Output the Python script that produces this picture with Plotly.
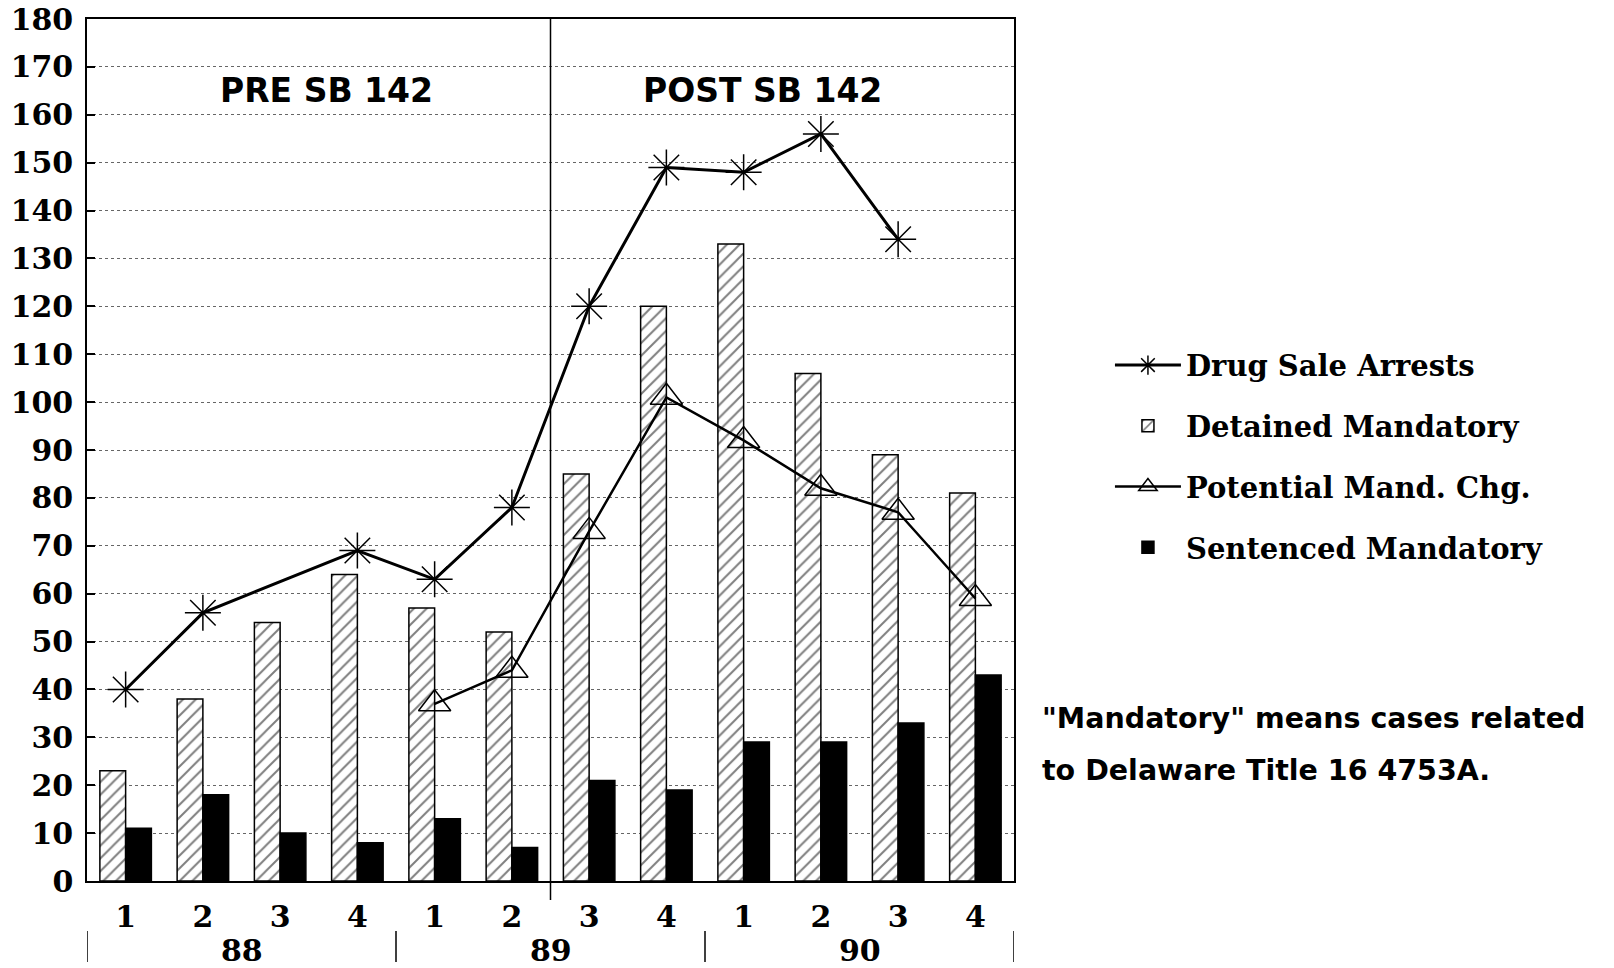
import plotly.graph_objects as go

quarters = ["1", "2", "3", "4", "1", "2", "3", "4", "1", "2", "3", "4"]
years = ["88", "89", "90"]
xpos = list(range(12))

drug_sale_arrests = [40, 56, None, 69, 63, 78, 120, 149, 148, 156, 134, None]
detained_mandatory = [23, 38, 54, 64, 57, 52, 85, 120, 133, 106, 89, 81]
potential_mand_chg = [None, None, None, None, 37, 44, 73, 101, 92, 82, 77, 59]
sentenced_mandatory = [11, 18, 10, 8, 13, 7, 21, 19, 29, 29, 33, 43]

yticks = list(range(0, 181, 10))

SERIF = "DejaVu Serif"
SANS = "DejaVu Sans"

fig = go.Figure()

fig.add_trace(go.Scatter(
    x=xpos, y=drug_sale_arrests, name="Drug Sale Arrests",
    mode="lines+markers", connectgaps=True,
    line=dict(color="black", width=3),
    marker=dict(symbol="asterisk-open", size=30, color="black",
                line=dict(color="black", width=1.5)),
    legendgroup="a",
))
fig.add_trace(go.Bar(
    x=xpos, y=detained_mandatory, name="Detained Mandatory",
    marker=dict(color="white",
                line=dict(color="black", width=1.5),
                pattern=dict(shape="/", fgcolor="black", bgcolor="white",
                             size=9, solidity=0.22)),
    legendgroup="b",
))
fig.add_trace(go.Scatter(
    x=xpos, y=potential_mand_chg, name="Potential Mand. Chg.",
    mode="lines+markers",
    line=dict(color="black", width=2.5),
    marker=dict(symbol="triangle-up-open", size=28, color="black",
                line=dict(color="black", width=1.5)),
    legendgroup="c",
))
fig.add_trace(go.Bar(
    x=xpos, y=sentenced_mandatory, name="Sentenced Mandatory",
    marker=dict(color="black", line=dict(color="black", width=1.5)),
    legendgroup="d",
))

W, H = 1614, 968
L, R, T, B = 86.5, 1014, 18.5, 881
ph = B - T
pw = R - L

def py(page_y):
    return (B - page_y) / ph

def px(page_x):
    return (page_x - L) / pw

shapes = [
    dict(type="line", xref="x", yref="paper", x0=5.5, x1=5.5,
         y0=py(900), y1=1, line=dict(color="black", width=1.5)),
]
for sx in [-0.5, 3.5, 7.5, 11.5]:
    shapes.append(dict(type="line", xref="x", yref="paper", x0=sx, x1=sx,
                       y0=py(931), y1=py(962), line=dict(color="black", width=1.5)))

annotations = [
    dict(x=2.6, y=165, xref="x", yref="y", text="PRE SB 142", showarrow=False,
         font=dict(family=SANS, size=33, color="black", weight="bold")),
    dict(x=8.25, y=165, xref="x", yref="y", text="POST SB 142", showarrow=False,
         font=dict(family=SANS, size=33, color="black", weight="bold")),
    dict(x=px(1040), y=py(718.5), xref="paper", yref="paper",
         xanchor="left", yanchor="middle", showarrow=False,
         text="\"Mandatory\" means cases related",
         font=dict(family=SANS, size=28.5, color="black", weight="bold")),
    dict(x=px(1040), y=py(770), xref="paper", yref="paper",
         xanchor="left", yanchor="middle", showarrow=False,
         text="to Delaware Title 16 4753A.",
         font=dict(family=SANS, size=28.5, color="black", weight="bold")),
]
for i, yr in enumerate(years):
    annotations.append(dict(x=1.5 + 4 * i, y=py(951), xref="x", yref="paper",
                            text=yr, showarrow=False, yanchor="middle",
                            font=dict(family=SERIF, size=30, color="black", weight="bold")))

fig.update_layout(
    width=W, height=H,
    margin=dict(l=L, r=W - R, t=T, b=H - B, pad=0, autoexpand=False),
    paper_bgcolor="white", plot_bgcolor="white",
    barmode="group", bargap=1/3, bargroupgap=0,
    showlegend=True,
    legend=dict(x=px(1110), xanchor="left",
                y=py(456), yanchor="middle",
                font=dict(family=SERIF, size=29, color="black", weight="bold"),
                tracegroupgap=20, itemwidth=66, traceorder="grouped",
                bgcolor="rgba(0,0,0,0)"),
    shapes=shapes, annotations=annotations,
    xaxis=dict(range=[-0.5, 11.5], tickmode="array", tickvals=xpos, ticktext=quarters,
               showgrid=False, zeroline=False, automargin=False,
               showline=True, linecolor="black", linewidth=1.5, mirror=True,
               ticks="outside", ticklen=8, tickcolor="rgba(0,0,0,0)",
               ticklabeloverflow="allow",
               tickfont=dict(family=SERIF, size=30, color="black", weight="bold")),
    yaxis=dict(range=[0, 180], tickmode="array", tickvals=yticks,
               showgrid=True, gridcolor="#666", gridwidth=1, griddash="dot",
               zeroline=False, automargin=False,
               showline=True, linecolor="black", linewidth=1.5, mirror=True,
               ticks="inside", ticklen=8, tickcolor="black", tickwidth=1.5,
               ticklabelstandoff=6, ticklabeloverflow="allow",
               tickfont=dict(family=SERIF, size=30, color="black", weight="bold")),
)

fig.write_html(
    "out.html",
    config={"displayModeBar": False},
    post_script="document.body.style.margin='0';document.body.style.overflow='hidden';",
)
